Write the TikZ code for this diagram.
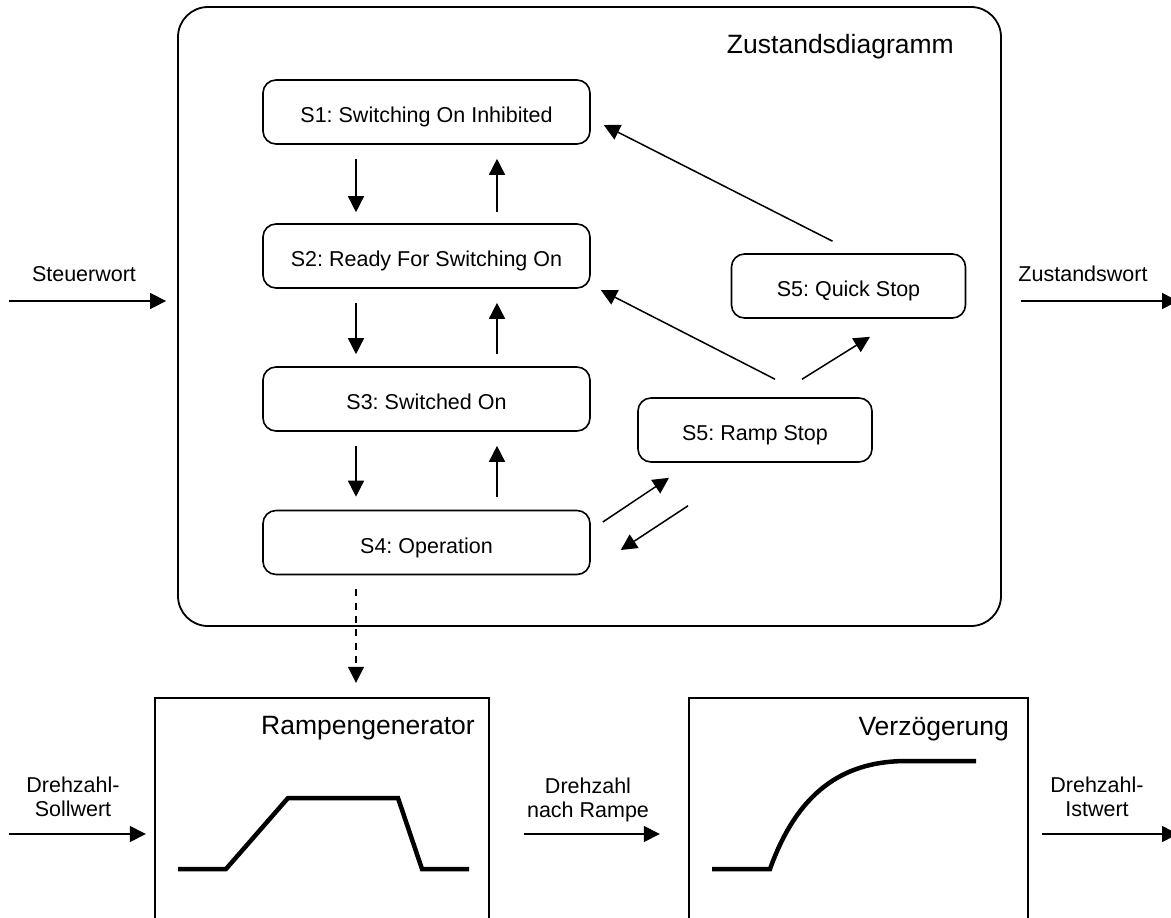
\documentclass[tikz,border=0pt]{standalone}
\usepackage{fontspec}
\setmainfont{Liberation Sans}
\usetikzlibrary{arrows.meta,calc}
\begin{document}
\frenchspacing
\begin{tikzpicture}[x=1pt,y=-1pt,
  stbox/.style={draw, line width=1.6pt, rounded corners=13pt, minimum width=327pt, minimum height=64pt, inner sep=0pt, text height=21pt, text depth=0pt, font=\fontsize{21.5pt}{25pt}\selectfont},
  stopbox/.style={stbox, minimum width=234pt},
  arr/.style={line width=1.5pt, -{Triangle[length=16pt,width=16pt]}},
  dasharr/.style={arr, dash pattern=on 7pt off 6.3pt},
  lbl/.style={inner sep=0pt, align=center, font=\fontsize{21.5pt}{23.5pt}\selectfont},
  ttl/.style={inner sep=0pt, font=\fontsize{26.5pt}{30pt}\selectfont},
  blk/.style={line width=1.8pt},
  curve/.style={line width=4.5pt}]
\useasboundingbox (0,0) rectangle (1171,918);

% main container
\node[draw, line width=1.8pt, rounded corners=30pt, minimum width=823pt, minimum height=619pt, inner sep=0pt] (main) at (589.5,316.5) {};
\node[ttl, anchor=base east] (ztitle) at (954,53) {Zustandsdiagramm};

% states
\node[stbox] (s1) at (426.5,112) {S1: Switching On Inhibited};
\node[stbox] (s2) at (426.5,256) {S2: Ready For Switching On};
\node[stbox] (s3) at (426.5,399) {S3: Switched On};
\node[stbox] (s4) at (426.5,542.5) {S4: Operation};
\node[stopbox] (rs) at (755,430) {S5: Ramp Stop};
\node[stopbox] (qs) at (848.5,286) {S5: Quick Stop};

% vertical transitions
\draw[arr] ($(s1.south)+(-70.5,14)$) -- ($(s2.north)+(-70.5,-11)$);
\draw[arr] ($(s2.north)+(70.5,-11)$) -- ($(s1.south)+(70.5,14)$);
\draw[arr] ($(s2.south)+(-70.5,14)$) -- ($(s3.north)+(-70.5,-12)$);
\draw[arr] ($(s3.north)+(70.5,-12)$) -- ($(s2.south)+(70.5,14)$);
\draw[arr] ($(s3.south)+(-70.5,14)$) -- ($(s4.north)+(-70.5,-13)$);
\draw[arr] ($(s4.north)+(70.5,-13)$) -- ($(s3.south)+(70.5,14)$);

% diagonal transitions
\draw[arr] ($(qs.north)+(-16,-12)$) -- ($(s1.east)+(13,13)$);
\draw[arr] ($(rs.north)+(20,-18)$) -- ($(s2.east)+(10,34)$);
\draw[arr] ($(rs.north)+(47,-18)$) -- ($(qs.south)+(21.5,18)$);
\draw[arr] ($(s4.east)+(12,-20.5)$) -- ($(rs.south)+(-86,15)$);
\draw[arr] ($(rs.south)+(-67,43)$) -- ($(s4.east)+(30,7.5)$);

% lower blocks (open at the bottom)
\node[minimum width=334pt, minimum height=240pt, inner sep=0pt] (rg) at (322,818) {};
\node[minimum width=339pt, minimum height=240pt, inner sep=0pt] (vz) at (858.5,818) {};
\draw[blk] (rg.south west) -- (rg.north west) -- (rg.north east) -- (rg.south east);
\draw[blk] (vz.south west) -- (vz.north west) -- (vz.north east) -- (vz.south east);
\node[ttl, anchor=base east] (rgt) at (475,734) {Rampengenerator};
\node[ttl, anchor=base east] (vzt) at (1009,735) {Verzögerung};

% dashed link
\draw[dasharr] ($(s4.south)+(-70.5,14)$) -- ($(s4.south |- rg.north)+(-70.5,-15)$);

% curves
\draw[curve] (178,869) -- (226,869) -- (288,798) -- (398,798) -- (422,869) -- (469,869);
\draw[curve] (712,869) -- (770,869) .. controls (800,785) and (850,761) .. (907,761) -- (976,761);

% inputs / outputs
\coordinate (inA) at (9,301);
\coordinate (outA) at (1178,301);
\coordinate (inB) at (9,834);
\coordinate (outB) at (1178,834);
\draw[arr] (inA) -- ($(inA -| main.west)+(-11,0)$);
\draw[arr] ($(outA -| main.east)+(19,0)$) -- (outA);
\draw[arr] (inB) -- ($(inB -| rg.west)+(-9,0)$);
\draw[arr] ($(inB -| rg.east)+(35,0)$) -- ($(inB -| vz.west)+(-29,0)$);
\draw[arr] ($(inB -| vz.east)+(14,0)$) -- (outB);

\node[lbl, anchor=base] (lsw) at (84,281) {Steuerwort};
\node[lbl, anchor=base] (lzw) at (1083,281) {Zustandswort};
\node[lbl, anchor=north] (lsoll) at (73,777) {Drehzahl-\\Sollwert};
\node[lbl, anchor=north] (lnr) at (588,778) {Drehzahl\\nach Rampe};
\node[lbl, anchor=north] (list) at (1097,777) {Drehzahl-\\Istwert};
\end{tikzpicture}
\end{document}
